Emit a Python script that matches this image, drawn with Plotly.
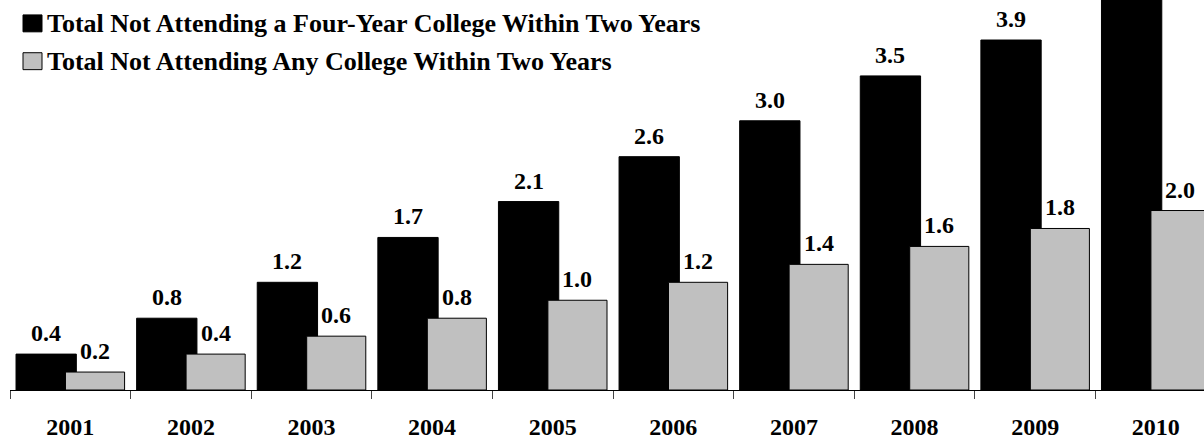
import plotly.graph_objects as go

years = ["2001", "2002", "2003", "2004", "2005", "2006", "2007", "2008", "2009", "2010"]
four_year = [0.4, 0.8, 1.2, 1.7, 2.1, 2.6, 3.0, 3.5, 3.9, 4.4]
any_college = [0.2, 0.4, 0.6, 0.8, 1.0, 1.2, 1.4, 1.6, 1.8, 2.0]

name_four = "Total Not Attending a Four-Year College Within Two Years"
name_any = "Total Not Attending Any College Within Two Years"

_FONT = "Liberation Serif"
_GRAY = "#C0C0C0"

W, H = 1204, 440
M_L, M_B = 10, 48
PLOT_W, PLOT_H = W - M_L, H - M_B

# bar placement within each category slot (category units)
FOUR_OFF, FOUR_W = -0.45, 0.5
ANY_OFF, ANY_W = -0.04, 0.49

fig = go.Figure()
fig.add_trace(
    go.Bar(
        name=name_four,
        x=years,
        y=four_year,
        offset=FOUR_OFF,
        width=FOUR_W,
        marker=dict(color="#000000", line=dict(color="#000000", width=1)),
        hoverinfo="x+y",
    )
)
fig.add_trace(
    go.Bar(
        name=name_any,
        x=years,
        y=any_college,
        offset=ANY_OFF,
        width=ANY_W,
        marker=dict(color=_GRAY, line=dict(color="#000000", width=1)),
        hoverinfo="x+y",
    )
)

# value labels above each bar (category index as x)
for vals, off, w in [(four_year, FOUR_OFF, FOUR_W), (any_college, ANY_OFF, ANY_W)]:
    for i, v in enumerate(vals):
        fig.add_annotation(
            x=i + off + w / 2,
            y=v,
            text=f"<b>{v:.1f}</b>",
            xanchor="center",
            yanchor="bottom",
            yshift=6,
            showarrow=False,
            font=dict(family=_FONT, size=24, color="#000000"),
        )


def px_x(p):
    return (p - M_L) / PLOT_W


def px_y(p):
    return 1 - p / PLOT_H


# hand-drawn legend: square swatch + bold label
legend_rows = [(name_four, "#000000", 24), (name_any, _GRAY, 62)]
for label, color, yc in legend_rows:
    fig.add_shape(
        type="rect",
        xref="paper",
        yref="paper",
        x0=px_x(23),
        x1=px_x(42),
        y0=px_y(yc - 9),
        y1=px_y(yc + 8),
        fillcolor=color,
        line=dict(color="#000000", width=1),
    )
    fig.add_annotation(
        text=f"<b>{label}</b>",
        xref="paper",
        yref="paper",
        x=px_x(45),
        y=px_y(yc),
        xanchor="left",
        yanchor="middle",
        showarrow=False,
        font=dict(family=_FONT, size=26, color="#000000"),
    )

fig.update_layout(
    width=W,
    height=H,
    barmode="overlay",
    showlegend=False,
    paper_bgcolor="white",
    plot_bgcolor="white",
    font=dict(family=_FONT, color="#000000", size=24),
    margin=dict(l=M_L, r=0, t=0, b=M_B, pad=0),
)
fig.update_xaxes(
    type="category",
    range=[-0.5, 9.4],
    showline=True,
    linecolor="#000000",
    linewidth=1,
    ticks="outside",
    tickson="boundaries",
    ticklen=8,
    tickcolor="#444444",
    tickwidth=1,
    ticklabelstandoff=15,
    tickfont=dict(family=_FONT, size=24, color="#000000"),
    tickprefix="<b>",
    ticksuffix="</b>",
    showgrid=False,
    zeroline=False,
)
fig.update_yaxes(
    range=[0, 4.346],
    visible=False,
    showgrid=False,
    zeroline=False,
)

fig.write_html(
    "out.html",
    config={"displayModeBar": False},
    post_script="document.body.style.margin='0px';",
)
